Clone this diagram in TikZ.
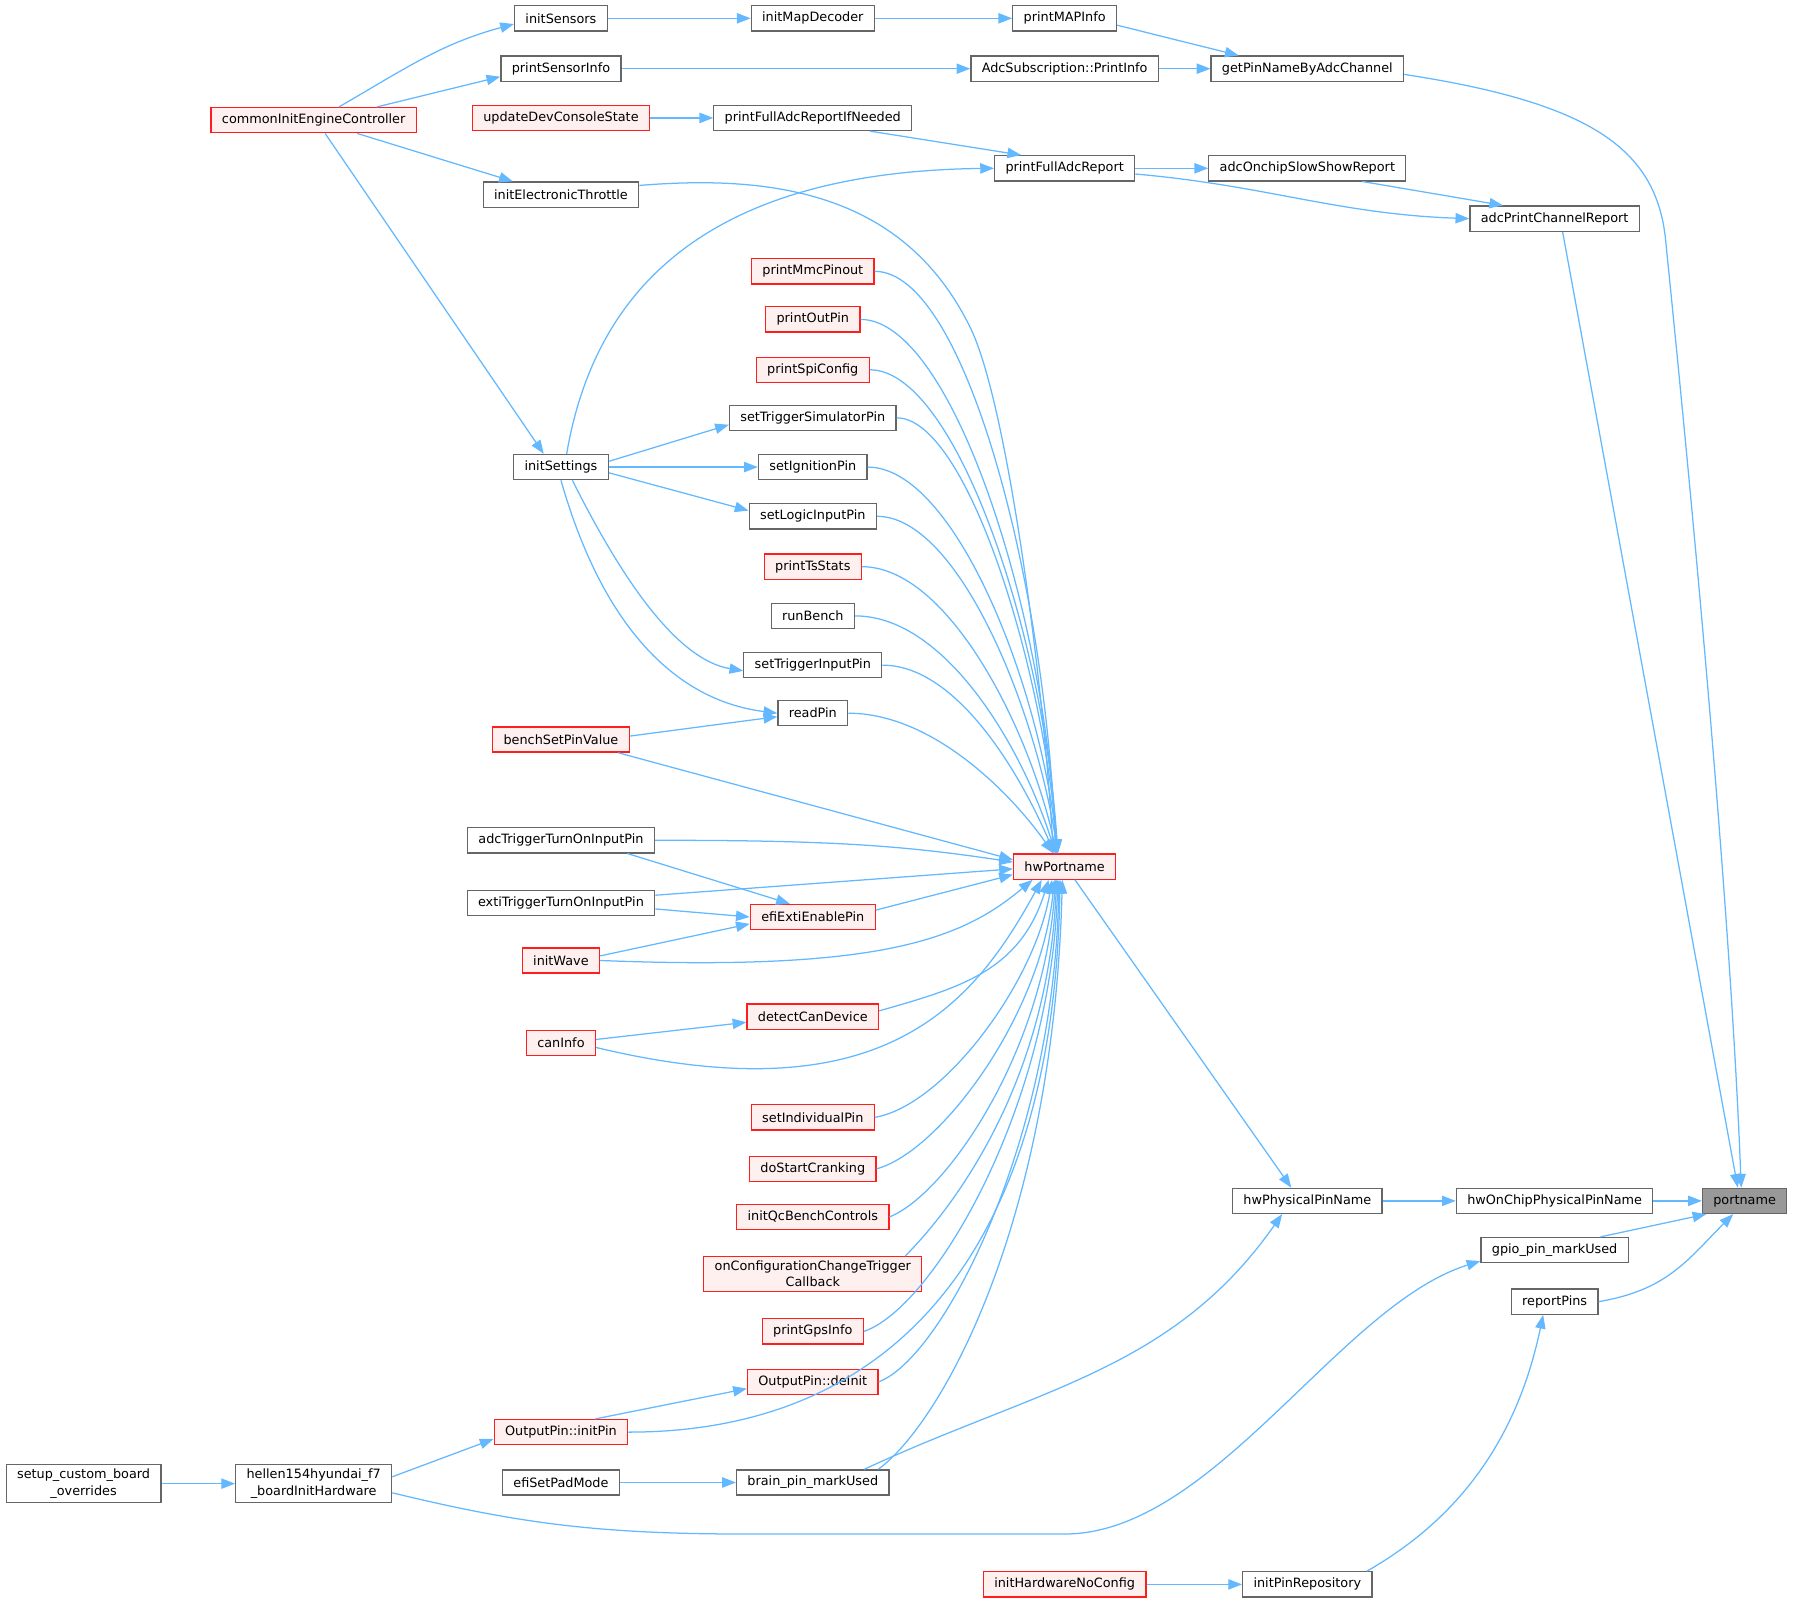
\documentclass[tikz,border=0pt]{standalone}
\usepackage{fontspec}
\setmainfont{DejaVu Sans}
\usetikzlibrary{arrows.meta}
\definecolor{edgeblue}{RGB}{99,184,255}
\definecolor{boxgray}{RGB}{102,102,102}
\definecolor{redline}{RGB}{255,30,30}
\definecolor{redfill}{RGB}{255,240,240}
\definecolor{curfill}{RGB}{153,153,153}
\begin{document}
\begin{tikzpicture}[x=1pt,y=1pt,
    fn/.style={draw=boxgray,fill=white,line width=1.1pt,minimum height=22pt,inner xsep=9.5pt,inner ysep=4pt,font=\fontsize{11.2}{14}\selectfont,align=center},
    fnred/.style={fn,draw=redline,fill=redfill},
    fncur/.style={fn,fill=curfill},
    callarr/.style={draw=edgeblue,line width=1.1pt,-{Triangle[length=12pt,width=9pt]}}]
    \useasboundingbox (0,0) rectangle (1568,-1401);
    \node[fn] (isens) at (490,-16) {initSensors};
    \node[fn] (imd) at (710,-16) {initMapDecoder};
    \node[fn] (pmi) at (930,-16) {printMAPInfo};
    \node[fn] (psi) at (490,-60) {printSensorInfo};
    \node[fn] (asub) at (930,-60) {AdcSubscription::PrintInfo};
    \node[fn] (gpn) at (1142,-60) {getPinNameByAdcChannel};
    \node[fnred] (cie) at (274,-105) {commonInitEngineController};
    \node[fnred] (udcs) at (490,-103) {updateDevConsoleState};
    \node[fn] (pfari) at (710,-103) {printFullAdcReportIfNeeded};
    \node[fn] (pfar) at (930,-147) {printFullAdcReport};
    \node[fn] (aosr) at (1142,-147) {adcOnchipSlowShowReport};
    \node[fn] (iet) at (490,-170) {initElectronicThrottle};
    \node[fn] (apcr) at (1358,-191) {adcPrintChannelReport};
    \node[fnred] (pmmc) at (710,-237) {printMmcPinout};
    \node[fnred] (pop) at (710,-279) {printOutPin};
    \node[fnred] (pspi) at (710,-323) {printSpiConfig};
    \node[fn] (stsp) at (710,-365) {setTriggerSimulatorPin};
    \node[fn] (iset) at (490,-408) {initSettings};
    \node[fn] (sip) at (710,-408) {setIgnitionPin};
    \node[fn] (slip) at (710,-451) {setLogicInputPin};
    \node[fnred] (ptss) at (710,-495) {printTsStats};
    \node[fn] (rbench) at (710,-538) {runBench};
    \node[fn] (stip) at (710,-581) {setTriggerInputPin};
    \node[fn] (rpin) at (710,-623) {readPin};
    \node[fnred] (bspv) at (490,-646) {benchSetPinValue};
    \node[fn] (atoip) at (490,-734) {adcTriggerTurnOnInputPin};
    \node[fnred] (hwp) at (930,-757) {hwPortname};
    \node[fn] (etoip) at (490,-789) {extiTriggerTurnOnInputPin};
    \node[fnred] (eeep) at (710,-801) {efiExtiEnablePin};
    \node[fnred] (iwave) at (490,-839) {initWave};
    \node[fnred] (dcd) at (710,-888) {detectCanDevice};
    \node[fnred] (cinfo) at (490,-911) {canInfo};
    \node[fnred] (sipin) at (710,-976) {setIndividualPin};
    \node[fnred] (dsc) at (710,-1021) {doStartCranking};
    \node[fnred] (iqbc) at (710,-1063) {initQcBenchControls};
    \node[fnred] (occb) at (710,-1113) {onConfigurationChangeTrigger\\Callback};
    \node[fnred] (pgps) at (710,-1163) {printGpsInfo};
    \node[fnred] (opdi) at (710,-1207) {OutputPin::deInit};
    \node[fnred] (opip) at (490,-1251) {OutputPin::initPin};
    \node[fn] (hel) at (274,-1296) {hellen154hyundai\_f7\\\_boardInitHardware};
    \node[fn] (scbo) at (73,-1296) {setup\_custom\_board\\\_overrides};
    \node[fn] (espm) at (490,-1295) {efiSetPadMode};
    \node[fn] (bpmu) at (710,-1295) {brain\_pin\_markUsed};
    \node[fn] (hppn) at (1142,-1049) {hwPhysicalPinName};
    \node[fn] (hocp) at (1358,-1049) {hwOnChipPhysicalPinName};
    \node[fncur] (port) at (1524,-1049) {portname};
    \node[fn] (gpmu) at (1358,-1092) {gpio\_pin\_markUsed};
    \node[fn] (rpins) at (1358,-1137) {reportPins};
    \node[fnred] (ihnc) at (930,-1384) {initHardwareNoConfig};
    \node[fn] (ipr) at (1142,-1384) {initPinRepository};

    \draw[callarr] ([xshift=22pt]cie.north) to[out=30,in=195] ([yshift=-5pt]isens.west);
    \draw[callarr] ([xshift=55pt]cie.north) -- ([yshift=-7pt]psi.west);
    \draw[callarr] ([xshift=38pt]cie.south) -- ([xshift=-42pt]iet.north);
    \draw[callarr] ([xshift=10pt]cie.south) -- ([xshift=-15pt]iset.north);
    \draw[callarr] (isens) -- (imd);
    \draw[callarr] (imd) -- (pmi);
    \draw[callarr] ([yshift=-6pt]pmi.east) -- ([xshift=-60pt]gpn.north);
    \draw[callarr] (psi) -- (asub);
    \draw[callarr] (asub) -- (gpn);
    \draw[callarr] ([yshift=-5pt]gpn.east) .. controls (1390,-90) and (1447,-130) .. (1455,-210) .. controls (1465,-310) and (1510,-750) .. ([xshift=-3pt]port.north);
    \draw[callarr] (udcs) -- (pfari);
    \draw[callarr] ([xshift=50pt]pfari.south) -- ([xshift=-38pt]pfar.north);
    \draw[callarr] (pfar) -- (aosr);
    \draw[callarr] ([xshift=48pt]aosr.south) -- ([xshift=-45pt]apcr.north);
    \draw[callarr] ([yshift=-5pt]pfar.east) to[out=-5,in=178] (apcr.west);
    \draw[callarr] ([xshift=7pt]apcr.south) -- ([xshift=-6pt]port.north);
    \draw[callarr] ([xshift=5pt]iset.north) .. controls +(25,147) and +(-247,-3) .. (pfar.west);

    \draw[callarr] ([yshift=8pt]iet.east) .. controls +(120,10) and +(-57,115) .. (847,-285) .. controls (880,-350) and (912,-600) .. ([xshift=-10pt]hwp.north);
    \draw[callarr] (pmmc.east) .. controls +(80,0) and +(-8,230) .. ([xshift=-8pt]hwp.north);
    \draw[callarr] (pop.east) .. controls +(80,0) and +(-10,210) .. ([xshift=-7pt]hwp.north);
    \draw[callarr] (pspi.east) .. controls +(75,0) and +(-12,190) .. ([xshift=-6pt]hwp.north);
    \draw[callarr] (stsp.east) .. controls +(60,0) and +(-14,170) .. ([xshift=-6pt]hwp.north);
    \draw[callarr] (sip.east) .. controls +(75,0) and +(-16,150) .. ([xshift=-6pt]hwp.north);
    \draw[callarr] (slip.east) .. controls +(70,0) and +(-20,130) .. ([xshift=-6pt]hwp.north);
    \draw[callarr] (ptss.east) .. controls +(75,0) and +(-24,110) .. ([xshift=-7pt]hwp.north);
    \draw[callarr] (rbench.east) .. controls +(80,0) and +(-28,90) .. ([xshift=-8pt]hwp.north);
    \draw[callarr] (stip.east) .. controls +(65,0) and +(-30,70) .. ([xshift=-9pt]hwp.north);
    \draw[callarr] (rpin.east) .. controls +(75,0) and +(-35,50) .. ([xshift=-10pt]hwp.north);

    \draw[callarr] ([yshift=5pt]iset.east) -- ([yshift=-6pt]stsp.west);
    \draw[callarr] (iset) -- (sip);
    \draw[callarr] ([yshift=-5pt]iset.east) -- ([yshift=5pt]slip.west);
    \draw[callarr] ([xshift=10pt]iset.south) .. controls +(40,-80) and +(-60,10) .. ([yshift=-5pt]stip.west);
    \draw[callarr] (iset.south) .. controls +(40,-140) and +(-80,10) .. (rpin.west);
    \draw[callarr] ([yshift=3pt]bspv.east) -- ([yshift=-3pt]rpin.west);

    \draw[callarr] ([xshift=50pt]bspv.south) -- ([yshift=6pt]hwp.west);
    \draw[callarr] (atoip.east) .. controls +(150,0) and +(-100,15) .. ([yshift=4pt]hwp.west);
    \draw[callarr] ([yshift=7pt]etoip.east) -- ([yshift=-2pt]hwp.west);
    \draw[callarr] ([yshift=6pt]eeep.east) -- ([yshift=-7pt]hwp.west);
    \draw[callarr] ([xshift=58pt]atoip.south) -- ([xshift=-20pt]eeep.north);
    \draw[callarr] ([yshift=-5pt]etoip.east) -- (eeep.west);
    \draw[callarr] ([yshift=4pt]iwave.east) -- ([yshift=-6pt]eeep.west);
    \draw[callarr] (iwave.east) .. controls +(250,-10) and +(-60,-50) .. ([xshift=-28pt]hwp.south);
    \draw[callarr] ([yshift=3pt]cinfo.east) -- ([yshift=-5pt]dcd.west);
    \draw[callarr] ([yshift=-4pt]cinfo.east) .. controls +(250,-60) and +(-60,-110) .. ([xshift=-20pt]hwp.south);
    \draw[callarr] ([yshift=5pt]dcd.east) .. controls +(70,20) and +(-25,-80) .. ([xshift=-14pt]hwp.south);
    \draw[callarr] (sipin.east) .. controls +(60,10) and +(-15,-90) .. ([xshift=-11pt]hwp.south);
    \draw[callarr] (dsc.east) .. controls +(55,15) and +(-12,-120) .. ([xshift=-9pt]hwp.south);
    \draw[callarr] (iqbc.east) .. controls +(50,20) and +(-10,-150) .. ([xshift=-8pt]hwp.south);
    \draw[callarr] ([xshift=-15pt]occb.north east) .. controls +(40,40) and +(-8,-180) .. ([xshift=-7pt]hwp.south);
    \draw[callarr] (pgps.east) .. controls +(60,20) and +(-6,-200) .. ([xshift=-6pt]hwp.south);
    \draw[callarr] (opdi.east) .. controls +(55,20) and +(-4,-230) .. ([xshift=-5pt]hwp.south);
    \draw[callarr] (opip.east) .. controls +(250,0) and +(-5,-300) .. ([xshift=-4pt]hwp.south);
    \draw[callarr] ([xshift=-10pt]bpmu.north east) .. controls +(55,40) and +(-8,-300) .. ([xshift=-2pt]hwp.south);

    \draw[callarr] ([yshift=6pt]hel.east) -- ([yshift=-6pt]opip.west);
    \draw[callarr] ([xshift=30pt]opip.north) -- ([yshift=-6pt]opdi.west);
    \draw[callarr] (scbo) -- (hel);
    \draw[callarr] (espm) -- (bpmu);
    \draw[callarr] ([yshift=-8pt]hel.east) .. controls (450,-1330) and (520,-1340) .. (650,-1340) -- (930,-1340) .. controls (1060,-1340) and (1170,-1140) .. ([yshift=2pt]gpmu.south west);
    \draw[callarr] ([xshift=9pt]hwp.south) -- ([xshift=-14pt]hppn.north);
    \draw[callarr] ([xshift=45pt]bpmu.north) to[out=25,in=-125] ([xshift=-22pt]hppn.south);
    \draw[callarr] (hppn) -- (hocp);
    \draw[callarr] (hocp) -- (port);
    \draw[callarr] ([xshift=40pt]gpmu.north) -- ([xshift=4pt]port.south west);
    \draw[callarr] (rpins.east) .. controls +(60,10) and +(-40,-40) .. ([xshift=-10pt]port.south);
    \draw[callarr] ([xshift=-5pt]ipr.north east) .. controls +(70,40) and +(-25,-120) .. ([xshift=-10pt]rpins.south);
    \draw[callarr] (ihnc) -- (ipr);
\end{tikzpicture}
\end{document}
